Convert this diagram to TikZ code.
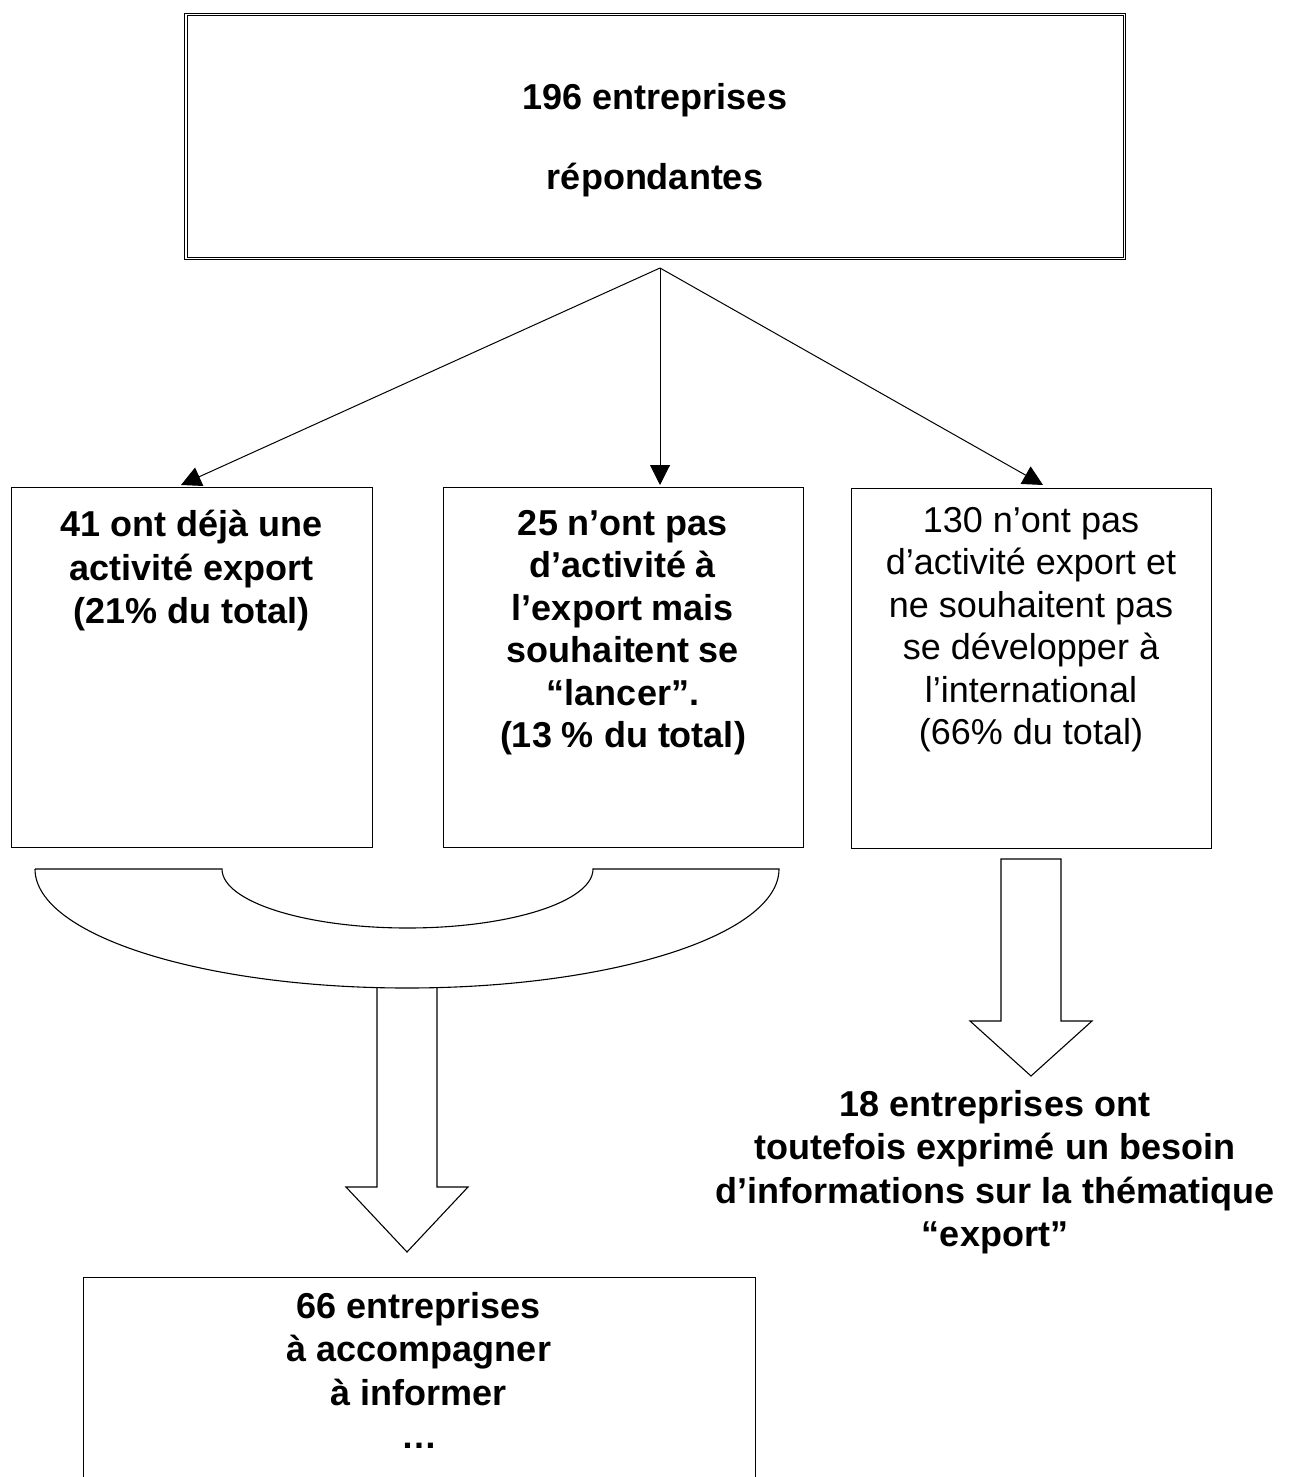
\documentclass[tikz,border=0pt]{standalone}
\usepackage{fontspec}
\setmainfont{Liberation Sans}
\usetikzlibrary{arrows.meta}
\begin{document}
\begin{tikzpicture}[x=1pt,y=1pt,
  box/.style={draw, line width=1.1pt, inner sep=0pt, anchor=north west},
  btxt/.style={align=center, inner sep=0pt, anchor=north, font=\bfseries\fontsize{36}{43.5}\selectfont},
  ntxt/.style={align=center, inner sep=0pt, anchor=north, font=\fontsize{36}{42.5}\selectfont},
  arr/.style={line width=1pt, -{Triangle[length=20pt,width=20pt]}},
  hollow/.style={draw, line width=1.1pt, line join=miter},
]
\useasboundingbox (0,0) rectangle (1288,-1477);
\clip (0,0) rectangle (1288,-1477);

% top box (double border)
\node[draw, double, double distance=1.4pt, line width=1pt, inner sep=0pt,
      minimum width=938.3pt, minimum height=244.3pt] (top) at (655.3,-136.6) {};
\node[btxt] (toptxt) at (655,-83) {196 entreprises\\[36.5pt]répondantes};

% three boxes
\node[box, minimum width=361pt, minimum height=360pt] (b1) at (11,-487) {};
\node[box, minimum width=360pt, minimum height=360pt] (b2) at (443,-487) {};
\node[box, minimum width=360pt, minimum height=360pt] (b3) at (851,-488) {};

\node[btxt] (t1) at (191.5,-510) {41 ont déjà une\\activité export\\(21\% du total)};
\node[btxt, font=\bfseries\fontsize{36}{42.5}\selectfont] (t2) at (623,-510) {25 n’ont pas\\d’activité à\\l’export mais\\souhaitent se\\“lancer”.\\(13 \% du total)};
\node[ntxt] (t3) at (1031,-507) {130 n’ont pas\\d’activité export et\\ne souhaitent pas\\se développer à\\l’international\\(66\% du total)};

% arrows from top box
\coordinate (apex) at (660,-268);
\coordinate (e1) at (181,-485);
\coordinate (e2) at (660,-485);
\coordinate (e3) at (1043,-485);
\draw[arr] (apex) -- (e1);
\draw[arr] (apex) -- (e2);
\draw[arr] (apex) -- (e3);

% curved merging shape
\draw[hollow] (35,-869) -- (222,-869)
  arc[start angle=180, end angle=360, x radius=185.5pt, y radius=59pt]
  -- (779,-869)
  arc[start angle=0, end angle=-180, x radius=372pt, y radius=119pt];

% hollow arrow down to bottom box
\draw[hollow] (377,-987) -- (377,-1187) -- (346,-1187) -- (407,-1252)
  -- (468,-1187) -- (437,-1187) -- (437,-987);

% hollow arrow on the right
\draw[hollow] (1001,-859) -- (1001,-1021) -- (970,-1021) -- (1031,-1076)
  -- (1092,-1021) -- (1061,-1021) -- (1061,-859) -- cycle;

% bottom box (cut off by page edge)
\node[box, minimum width=672pt, minimum height=260pt] (b4) at (83,-1277) {};
\node[btxt] (t4) at (419,-1292) {66 entreprises\\à accompagner\\à informer\\…};

% right text
\node[btxt] (t5) at (995,-1090) {18 entreprises ont\\toutefois exprimé un besoin\\d’informations sur la thématique\\“export”};
\end{tikzpicture}
\end{document}
